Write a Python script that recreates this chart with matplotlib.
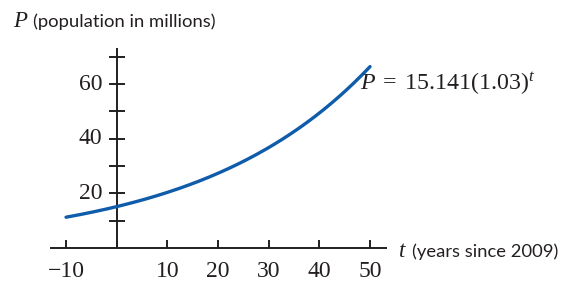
import numpy as np
import matplotlib
matplotlib.use("Agg")
import matplotlib.pyplot as plt

# Data (from the chart's own equation label)
P0 = 15.141
growth = 1.03
t_start, t_end = -10, 50
x_ticks = [-10, 10, 20, 30, 40, 50]
x_tick_marks = [-10, 0, 10, 20, 30, 40, 50]
y_tick_marks = [10, 20, 30, 40, 50, 60, 70]
y_labels = [20, 40, 60]

plt.rcParams['mathtext.fontset'] = 'custom'
plt.rcParams['mathtext.rm'] = 'Liberation Serif'
plt.rcParams['mathtext.it'] = 'Liberation Serif:italic'

fig = plt.figure(figsize=(5.62, 2.82), dpi=100)
ax = fig.add_axes([0, 0, 1, 1])
ax.set_xlim(-23.03, 87.88)
ax.set_ylim(-12.44, 90.74)
ax.axis('off')

axc = '#231f20'
# px per unit
sx = 5.067
sy = 2.733

# axes lines
ax.plot([-13.2, 53.3], [0, 0], color=axc, lw=1.4, solid_capstyle='butt')
ax.plot([0, 0], [0, 73.2], color=axc, lw=1.4, solid_capstyle='butt')

# x tick marks (upward)
for t in x_tick_marks:
    ax.plot([t, t], [0, 8 / sy], color=axc, lw=1.4, solid_capstyle='butt')
# y tick marks (both sides)
for p in y_tick_marks:
    ax.plot([-8 / sx, 8 / sx], [p, p], color=axc, lw=1.4, solid_capstyle='butt')

serif = 'Liberation Serif'
for t in x_ticks:
    lab = '\u2212' + str(-t) if t < 0 else str(t)
    ax.text(t, -4.6, lab, ha='center', va='top', fontsize=17, family=serif, color=axc)
for p in y_labels:
    ax.text(-2.9, p, str(p), ha='right', va='center', fontsize=17, family=serif, color=axc)

# curve
t = np.linspace(t_start, t_end, 300)
P = P0 * growth ** t
ax.plot(t, P, color='#0f5cab', lw=2.4, solid_capstyle='round')

# axis titles
fig.text(13 / 562, 1 - 27 / 282, 'P', family=serif, style='italic', fontsize=16.5,
         ha='left', va='baseline', color=axc)
fig.text(33 / 562, 1 - 27 / 282, '(population in millions)', family='Lato', fontsize=13.3,
         ha='left', va='baseline', color=axc)
fig.text(398 / 562, 1 - 257 / 282, r'$t$', fontsize=16.5, ha='left', va='baseline', color=axc)
fig.text(412 / 562, 1 - 257 / 282, '(years since 2009)', family='Lato', fontsize=13.2,
         ha='left', va='baseline', color=axc)

ax.text(50 - 10 / sx, 60.0, r'$P\;=\;15.141(1.03)^{t}$', fontsize=17.2, ha='left',
        va='center', color=axc)

fig.savefig('out.png', dpi=100)
